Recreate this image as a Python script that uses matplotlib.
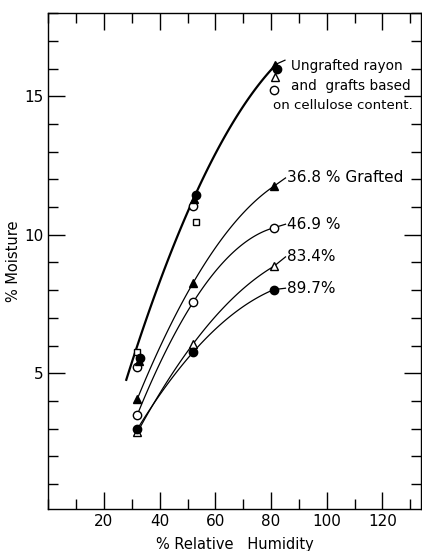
import matplotlib
matplotlib.use("Agg")
import matplotlib.pyplot as plt
import numpy as np
from matplotlib.ticker import MultipleLocator

# relative humidity of the measurements
rh = [32, 52, 81]

# ungrafted rayon / grafts based on cellulose content (several marker kinds)
ug_filled_circle = [5.55, 11.42, 16.0]
ug_filled_tri = [5.45, 11.3, 16.12]
ug_open_circle = [5.22, 11.03, 15.22]
ug_open_tri_rh = [81.5]
ug_open_tri = [15.68]
ug_open_square_rh = [32, 53]
ug_open_square = [5.78, 10.47]

# curve drawn through the ungrafted cluster
ug_curve_rh = [28, 32, 52, 82]
ug_curve_y = [5.0, 5.7, 11.35, 16.15]

# grafted samples
g368 = [4.08, 8.26, 11.75]
g469 = [3.51, 7.56, 10.25]
g834 = [2.87, 6.06, 8.86]
g897 = [2.99, 5.76, 8.02]

series = [
    (g368, "^", "black", "36.8 % Grafted", 12.05),
    (g469, "o", "white", "46.9 %", 10.38),
    (g834, "^", "white", "83.4%", 9.2),
    (g897, "o", "black", "89.7%", 8.07),
]

plt.rcParams["font.family"] = ["DejaVu Sans"]

fig = plt.figure(figsize=(4.22, 5.51), dpi=100)
ax = fig.add_axes([0.1145, 0.0762, 0.884, 0.900])

# ungrafted curve
c = np.polyfit(ug_curve_rh, ug_curve_y, 2)
xs = np.linspace(ug_curve_rh[0], ug_curve_rh[-1], 100)
ax.plot(xs, np.polyval(c, xs), color="black", lw=1.6, zorder=2)
ax.plot([ug_curve_rh[-1], 85], [np.polyval(c, ug_curve_rh[-1]), 16.3], color="black", lw=0.9)

ms = 6
ax.plot(rh, ug_open_circle, "o", mfc="white", mec="black", ms=ms, mew=1.0, zorder=3)
ax.plot(ug_open_square_rh, ug_open_square, "s", mfc="white", mec="black", ms=4.5, mew=1.0, zorder=3)
ax.plot(ug_open_tri_rh, ug_open_tri, "^", mfc="white", mec="black", ms=ms, mew=1.0, zorder=3)
ax.plot([r + 1 for r in rh], ug_filled_circle, "o", color="black", ms=ms, zorder=4)
ax.plot([r + 0.5 for r in rh], ug_filled_tri, "^", color="black", ms=ms, zorder=4)

ax.text(87.0, 16.09, "Ungrafted rayon", fontsize=9.8, ha="left", va="center")
ax.text(87.0, 15.37, "and  grafts based", fontsize=9.8, ha="left", va="center")
ax.text(80.6, 14.66, "on cellulose content.", fontsize=9.6, ha="left", va="center")

for ys, mk, fc, label, ylab in series:
    p = np.polyfit(rh, ys, 2)
    xs = np.linspace(rh[0], rh[-1], 80)
    ax.plot(xs, np.polyval(p, xs), color="black", lw=0.9, zorder=2)
    ax.plot(rh, ys, mk, mfc=fc, mec="black", ms=ms, mew=1.0, zorder=3)
    ax.plot([rh[-1], 85.2], [ys[-1], ylab], color="black", lw=0.9)
    ax.text(85.6, ylab, label, fontsize=11, ha="left", va="center")

ax.set_xlim(0, 134)
ax.set_ylim(0.1, 18)
ax.xaxis.set_major_locator(MultipleLocator(20))
ax.xaxis.set_minor_locator(MultipleLocator(10))
ax.yaxis.set_major_locator(MultipleLocator(5))
ax.yaxis.set_minor_locator(MultipleLocator(1))
ax.set_xticks([20, 40, 60, 80, 100, 120])
ax.tick_params(which="both", direction="in", top=True, right=True, width=1.0, labelsize=11)
ax.tick_params(which="major", length=12)
ax.tick_params(which="minor", length=7)
for s in ax.spines.values():
    s.set_linewidth(1.0)

ax.set_xlabel("% Relative   Humidity", fontsize=10.5, labelpad=6)
ax.set_ylabel("% Moisture", fontsize=10.5, labelpad=2)

fig.savefig("out.png", dpi=100)
